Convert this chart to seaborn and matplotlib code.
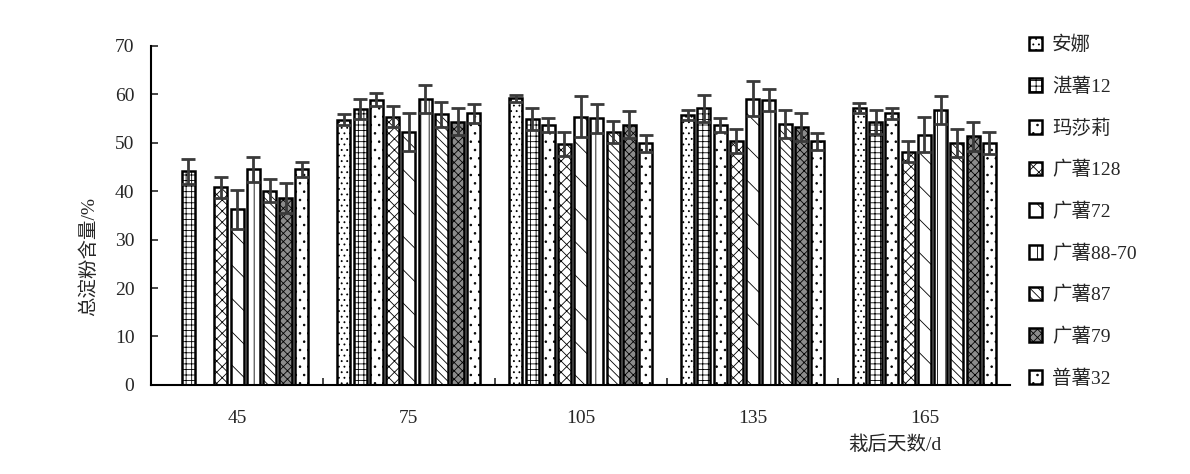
import numpy as np
import pandas as pd
import matplotlib
matplotlib.use("Agg")
import matplotlib.pyplot as plt
import seaborn as sns
from matplotlib.patches import Patch

# Days after planting (x categories) and varieties (hue)
days = ["45", "75", "105", "135", "165"]
varieties = ["安娜", "湛薯12", "玛莎莉", "广薯128", "广薯72", "广薯88-70", "广薯87", "广薯79", "普薯32"]

# Total starch content (%) per variety, one value per day
anna = [np.nan, 54.8, 59.2, 55.8, 57.2]
zhanshu12 = [44.1, 57.0, 54.9, 57.1, 54.3]
mashali = [np.nan, 58.9, 53.7, 53.7, 56.1]
gs128 = [40.8, 55.4, 49.8, 50.3, 48.2]
gs72 = [36.3, 52.2, 55.4, 59.1, 51.7]
gs8870 = [44.5, 59.1, 55.1, 58.9, 56.7]
gs87 = [40.1, 55.9, 52.2, 53.9, 49.9]
gs79 = [38.6, 54.4, 53.7, 53.2, 51.4]
pushu32 = [44.5, 56.1, 49.9, 50.3, 49.9]

# Standard errors
anna_err = [np.nan, 1.2, 0.7, 1.0, 1.0]
zhanshu12_err = [2.6, 2.0, 2.2, 2.8, 2.5]
mashali_err = [np.nan, 1.3, 1.4, 1.4, 1.1]
gs128_err = [2.2, 2.2, 2.5, 2.5, 2.1]
gs72_err = [4.0, 3.9, 4.2, 3.6, 3.6]
gs8870_err = [2.5, 2.9, 3.0, 2.3, 2.9]
gs87_err = [2.4, 2.6, 2.3, 2.9, 2.9]
gs79_err = [3.0, 2.7, 2.8, 2.9, 3.0]
pushu32_err = [1.6, 2.0, 1.8, 1.8, 2.3]

means = [anna, zhanshu12, mashali, gs128, gs72, gs8870, gs87, gs79, pushu32]
errs = [anna_err, zhanshu12_err, mashali_err, gs128_err, gs72_err,
        gs8870_err, gs87_err, gs79_err, pushu32_err]

# hatch pattern per variety (rough stand-ins for the Excel fills)
hatches = ["...", "+++", "..", "xxx", "\\", "||", "\\\\\\\\", "xxxx", ".."]
faces = ["white"] * 7 + ["#8c8c8c", "white"]

rows = []
for v, vals in zip(varieties, means):
    for d, val in zip(days, vals):
        rows.append({"day": d, "variety": v, "starch": val})
df = pd.DataFrame(rows).dropna()

sns.set_style("ticks")
plt.rcParams["font.family"] = ["Liberation Serif", "Noto Sans CJK SC"]
plt.rcParams["hatch.linewidth"] = 0.6

fig = plt.figure(figsize=(11.9, 4.74), dpi=100)
ax = fig.add_axes([0.127, 0.188, 0.722, 0.715])

sns.barplot(data=df, x="day", y="starch", hue="variety", order=days,
            hue_order=varieties, palette=dict(zip(varieties, faces)),
            width=0.85, gap=0.2, errorbar=None, edgecolor="black",
            linewidth=1.8, legend=False, ax=ax)

containers = list(ax.containers)
for i, cont in enumerate(containers):
    for bar in cont:
        h = bar.get_height()
        if np.isnan(h):
            continue
        cx = bar.get_x() + bar.get_width() / 2
        di = int(round(cx))
        bar.set_hatch(hatches[i])
        ax.errorbar(cx, h, yerr=errs[i][di], fmt="none", ecolor="#3a3a3a",
                    elinewidth=2, capsize=5, capthick=2, zorder=5)

ax.set_ylim(0, 70)
ax.set_yticks(range(0, 71, 10))
ax.set_xlim(-0.5, len(days) - 0.5)
sns.despine(ax=ax)
for s in ["left", "bottom"]:
    ax.spines[s].set_linewidth(1.5)
    ax.spines[s].set_color("black")

ax.tick_params(axis="y", direction="in", length=5, width=1.2, labelsize=14, pad=12)
ax.tick_params(axis="x", which="major", length=0, labelsize=14, pad=18)
ax.set_xticks(np.arange(0.5, len(days) - 0.5, 1), minor=True)
ax.tick_params(axis="x", which="minor", direction="in", length=5, width=1.2)

ax.set_ylabel("总淀粉含量/%", fontsize=14)
ax.yaxis.set_label_coords(-0.062, 0.38)
ax.set_xlabel("栽后天数/d", fontsize=14)
ax.xaxis.set_label_coords(0.866, -0.15)

handles = [Patch(facecolor=f, edgecolor="black", hatch=h, linewidth=1.8)
           for f, h in zip(faces, hatches)]
fig.legend(handles, varieties, loc="upper left",
           bbox_to_anchor=(1019 / 1190, 1 - 26 / 474), frameon=False,
           fontsize=14, handlelength=0.7, handleheight=0.7,
           handletextpad=0.5, labelspacing=1.2, borderpad=0)

fig.savefig("out.png", dpi=100)
